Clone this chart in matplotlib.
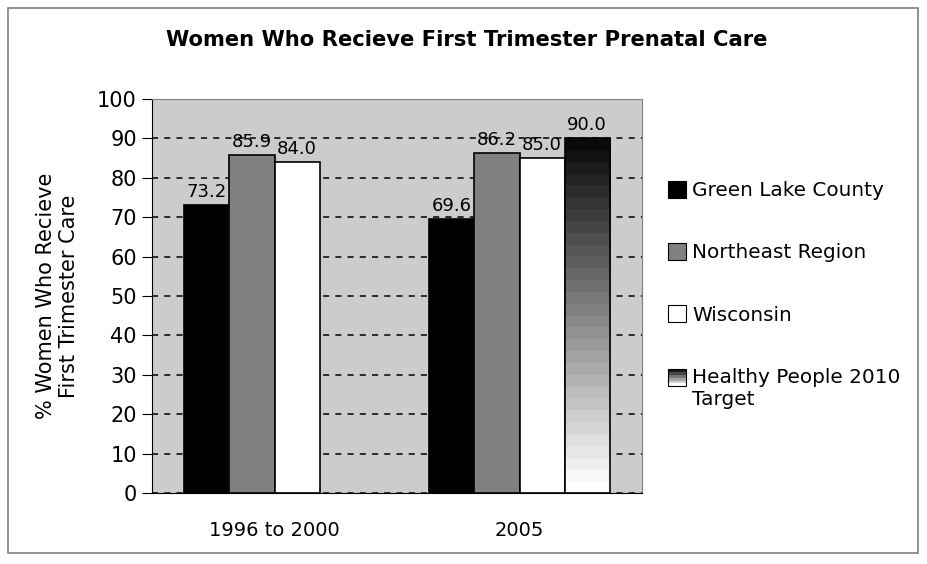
import matplotlib.pyplot as plt
import matplotlib.patches as mpatches
from matplotlib.legend_handler import HandlerBase
import numpy as np

categories = ["1996 to 2000", "2005"]
series = ["Green Lake County", "Northeast Region", "Wisconsin", "Healthy People 2010\nTarget"]
values = [
    [73.2, 69.6],
    [85.9, 86.2],
    [84.0, 85.0],
    [np.nan, 90.0],
]
colors = ["#000000", "#808080", "#ffffff", None]


class GradientHandler(HandlerBase):
    # small gradient swatch, dark on top, white at bottom, lined up with the first text line
    def create_artists(self, legend, orig_handle, xdescent, ydescent,
                       width, height, fontsize, trans):
        arts = []
        n = 6
        shift = 0.55 * fontsize
        for i in range(n):
            g = 0.1 + 0.9 * i / (n - 1)
            y0 = -ydescent + shift + height * (n - 1 - i) / n
            arts.append(mpatches.Rectangle((-xdescent, y0), width, height / n,
                                           facecolor=str(g), edgecolor="none",
                                           transform=trans))
        arts.append(mpatches.Rectangle((-xdescent, -ydescent + shift), width, height,
                                       facecolor="none", edgecolor="black",
                                       lw=0.8, transform=trans))
        return arts


fig = plt.figure(figsize=(9.27, 5.64), dpi=100)
fig.patches.append(mpatches.Rectangle((8 / 927, 11 / 564), 910 / 927, 545 / 564,
                                      transform=fig.transFigure, fill=False,
                                      edgecolor="#808080", lw=1.2))
ax = fig.add_axes([0.164, 0.1259, 0.5286, 0.6986])
ax.set_facecolor("#cccccc")

x = np.arange(len(categories))
w = 0.184
handles = []
for i, (name, vals) in enumerate(zip(series, values)):
    pos = x + (i - 1.5) * w
    if colors[i] is not None:
        ax.bar(pos, vals, w, color=colors[i], edgecolor="black", lw=1.2, zorder=3)
        handles.append(mpatches.Patch(facecolor=colors[i], edgecolor="black", lw=0.8))
    else:
        bars = ax.bar(pos, vals, w, color="none", edgecolor="black", lw=1.2, zorder=4)
        for b in bars:
            h = b.get_height()
            if np.isnan(h):
                continue
            grad = np.linspace(1.0, 0.04, 30).reshape(-1, 1)
            ax.imshow(grad, cmap="gray", vmin=0, vmax=1, aspect="auto", origin="lower",
                      extent=[b.get_x(), b.get_x() + b.get_width(), 0, h],
                      zorder=3, interpolation="nearest")
        handles.append(mpatches.Patch(label=name))
    for p, v in zip(pos, vals):
        if not np.isnan(v):
            ax.text(p, v + 1, f"{v:.1f}", ha="center", va="bottom", fontsize=13, zorder=5)

ax.set_xlim(-0.5, 1.5)
ax.set_ylim(0, 100)
ax.set_yticks(range(0, 101, 10))
ax.yaxis.grid(True, color="black", linestyle=(0, (4, 4)), lw=1.1, zorder=1)
ax.set_axisbelow(True)
ax.set_xticks(x)
ax.set_xticklabels(categories, fontsize=14)
ax.tick_params(axis="x", length=0, pad=20)
ax.tick_params(axis="y", labelsize=15, length=7, direction="out", pad=4)
ax.set_ylabel("% Women Who Recieve\nFirst Trimester Care", fontsize=15, labelpad=13)
for s in ["top", "right"]:
    ax.spines[s].set_color("#808080")
for s in ["left", "bottom"]:
    ax.spines[s].set_color("black")

fig.text(0.503, 0.929, "Women Who Recieve First Trimester Prenatal Care",
         ha="center", va="center", fontsize=15.2, fontweight="bold")

fig.legend(handles, series, loc="upper left", bbox_to_anchor=(0.721, 0.679),
           frameon=False, fontsize=14.4, handlelength=0.9, handleheight=0.9,
           handletextpad=0.3, labelspacing=2.15, borderaxespad=0, borderpad=0,
           handler_map={handles[3]: GradientHandler()})

fig.savefig("out.png", dpi=100)
